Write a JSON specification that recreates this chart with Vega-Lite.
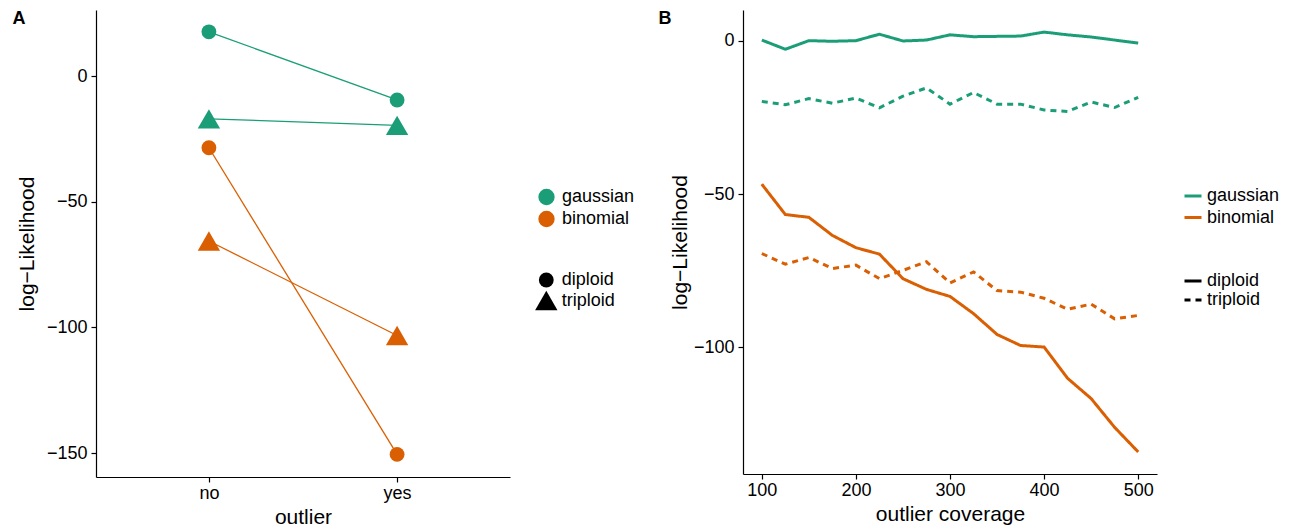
{
  "$schema": "https://vega.github.io/schema/vega-lite/v6.json",
  "padding": {"left": 12, "top": 10, "right": 5, "bottom": 2},
  "spacing": 23,
  "datasets": {
    "a": [
      {"outlier": "no", "model": "gaussian", "genotype": "diploid", "loglik": 17.6},
      {"outlier": "yes", "model": "gaussian", "genotype": "diploid", "loglik": -9.5},
      {"outlier": "no", "model": "gaussian", "genotype": "triploid", "loglik": -17.0},
      {"outlier": "yes", "model": "gaussian", "genotype": "triploid", "loglik": -19.6},
      {"outlier": "no", "model": "binomial", "genotype": "diploid", "loglik": -28.5},
      {"outlier": "yes", "model": "binomial", "genotype": "diploid", "loglik": -150.5},
      {"outlier": "no", "model": "binomial", "genotype": "triploid", "loglik": -65.6},
      {"outlier": "yes", "model": "binomial", "genotype": "triploid", "loglik": -103.2}
    ],
    "b": [
      {"coverage": 100, "model": "gaussian", "genotype": "diploid", "loglik": 0.2},
      {"coverage": 125, "model": "gaussian", "genotype": "diploid", "loglik": -2.8},
      {"coverage": 150, "model": "gaussian", "genotype": "diploid", "loglik": 0.0},
      {"coverage": 175, "model": "gaussian", "genotype": "diploid", "loglik": -0.2},
      {"coverage": 200, "model": "gaussian", "genotype": "diploid", "loglik": 0.0},
      {"coverage": 225, "model": "gaussian", "genotype": "diploid", "loglik": 2.1},
      {"coverage": 250, "model": "gaussian", "genotype": "diploid", "loglik": -0.1},
      {"coverage": 275, "model": "gaussian", "genotype": "diploid", "loglik": 0.2},
      {"coverage": 300, "model": "gaussian", "genotype": "diploid", "loglik": 1.9},
      {"coverage": 325, "model": "gaussian", "genotype": "diploid", "loglik": 1.3},
      {"coverage": 350, "model": "gaussian", "genotype": "diploid", "loglik": 1.4},
      {"coverage": 375, "model": "gaussian", "genotype": "diploid", "loglik": 1.5},
      {"coverage": 400, "model": "gaussian", "genotype": "diploid", "loglik": 2.8},
      {"coverage": 425, "model": "gaussian", "genotype": "diploid", "loglik": 1.9},
      {"coverage": 450, "model": "gaussian", "genotype": "diploid", "loglik": 1.2},
      {"coverage": 475, "model": "gaussian", "genotype": "diploid", "loglik": 0.2},
      {"coverage": 500, "model": "gaussian", "genotype": "diploid", "loglik": -0.8},
      {"coverage": 100, "model": "gaussian", "genotype": "triploid", "loglik": -19.8},
      {"coverage": 125, "model": "gaussian", "genotype": "triploid", "loglik": -20.9},
      {"coverage": 150, "model": "gaussian", "genotype": "triploid", "loglik": -18.9},
      {"coverage": 175, "model": "gaussian", "genotype": "triploid", "loglik": -20.4},
      {"coverage": 200, "model": "gaussian", "genotype": "triploid", "loglik": -18.7},
      {"coverage": 225, "model": "gaussian", "genotype": "triploid", "loglik": -21.9},
      {"coverage": 250, "model": "gaussian", "genotype": "triploid", "loglik": -18.1},
      {"coverage": 275, "model": "gaussian", "genotype": "triploid", "loglik": -15.4},
      {"coverage": 300, "model": "gaussian", "genotype": "triploid", "loglik": -20.7},
      {"coverage": 325, "model": "gaussian", "genotype": "triploid", "loglik": -16.9},
      {"coverage": 350, "model": "gaussian", "genotype": "triploid", "loglik": -20.7},
      {"coverage": 375, "model": "gaussian", "genotype": "triploid", "loglik": -20.7},
      {"coverage": 400, "model": "gaussian", "genotype": "triploid", "loglik": -22.6},
      {"coverage": 425, "model": "gaussian", "genotype": "triploid", "loglik": -23.1},
      {"coverage": 450, "model": "gaussian", "genotype": "triploid", "loglik": -20.0},
      {"coverage": 475, "model": "gaussian", "genotype": "triploid", "loglik": -21.8},
      {"coverage": 500, "model": "gaussian", "genotype": "triploid", "loglik": -18.5},
      {"coverage": 100, "model": "binomial", "genotype": "diploid", "loglik": -46.8},
      {"coverage": 125, "model": "binomial", "genotype": "diploid", "loglik": -56.7},
      {"coverage": 150, "model": "binomial", "genotype": "diploid", "loglik": -57.6},
      {"coverage": 175, "model": "binomial", "genotype": "diploid", "loglik": -63.5},
      {"coverage": 200, "model": "binomial", "genotype": "diploid", "loglik": -67.5},
      {"coverage": 225, "model": "binomial", "genotype": "diploid", "loglik": -69.6},
      {"coverage": 250, "model": "binomial", "genotype": "diploid", "loglik": -77.6},
      {"coverage": 275, "model": "binomial", "genotype": "diploid", "loglik": -81.1},
      {"coverage": 300, "model": "binomial", "genotype": "diploid", "loglik": -83.4},
      {"coverage": 325, "model": "binomial", "genotype": "diploid", "loglik": -89.0},
      {"coverage": 350, "model": "binomial", "genotype": "diploid", "loglik": -95.8},
      {"coverage": 375, "model": "binomial", "genotype": "diploid", "loglik": -99.4},
      {"coverage": 400, "model": "binomial", "genotype": "diploid", "loglik": -99.9},
      {"coverage": 425, "model": "binomial", "genotype": "diploid", "loglik": -110.1},
      {"coverage": 450, "model": "binomial", "genotype": "diploid", "loglik": -116.7},
      {"coverage": 475, "model": "binomial", "genotype": "diploid", "loglik": -126.1},
      {"coverage": 500, "model": "binomial", "genotype": "diploid", "loglik": -134.1},
      {"coverage": 100, "model": "binomial", "genotype": "triploid", "loglik": -69.4},
      {"coverage": 125, "model": "binomial", "genotype": "triploid", "loglik": -72.9},
      {"coverage": 150, "model": "binomial", "genotype": "triploid", "loglik": -70.7},
      {"coverage": 175, "model": "binomial", "genotype": "triploid", "loglik": -74.3},
      {"coverage": 200, "model": "binomial", "genotype": "triploid", "loglik": -73.2},
      {"coverage": 225, "model": "binomial", "genotype": "triploid", "loglik": -77.6},
      {"coverage": 250, "model": "binomial", "genotype": "triploid", "loglik": -74.9},
      {"coverage": 275, "model": "binomial", "genotype": "triploid", "loglik": -72.1},
      {"coverage": 300, "model": "binomial", "genotype": "triploid", "loglik": -79.0},
      {"coverage": 325, "model": "binomial", "genotype": "triploid", "loglik": -75.4},
      {"coverage": 350, "model": "binomial", "genotype": "triploid", "loglik": -81.5},
      {"coverage": 375, "model": "binomial", "genotype": "triploid", "loglik": -82.0},
      {"coverage": 400, "model": "binomial", "genotype": "triploid", "loglik": -84.0},
      {"coverage": 425, "model": "binomial", "genotype": "triploid", "loglik": -87.6},
      {"coverage": 450, "model": "binomial", "genotype": "triploid", "loglik": -85.9},
      {"coverage": 475, "model": "binomial", "genotype": "triploid", "loglik": -90.7},
      {"coverage": 500, "model": "binomial", "genotype": "triploid", "loglik": -89.6}
    ]
  },
  "hconcat": [
    {
      "width": 414,
      "height": 467,
      "title": {"text": "A", "anchor": "start", "frame": "bounds", "fontSize": 18, "fontWeight": "bold", "color": "black", "offset": -18, "dx": -4},
      "data": {"name": "a"},
      "layer": [
        {
          "mark": {"type": "line", "strokeWidth": 1.3},
          "encoding": {
            "x": {"field": "outlier", "type": "ordinal", "scale": {"type": "point", "padding": 0.6}, "axis": {"title": "outlier", "labelAngle": 0}},
            "y": {"field": "loglik", "type": "quantitative", "scale": {"domain": [-159.5, 26.3], "nice": false, "zero": false}, "axis": {"title": "log−Likelihood", "values": [0, -50, -100, -150], "titlePadding": 9}},
            "color": {"field": "model", "type": "nominal", "scale": {"domain": ["gaussian", "binomial"], "range": ["#1B9E77", "#D95F02"]}, "legend": {"orient": "none", "legendX": 441.5, "legendY": 178, "title": null, "symbolType": "circle", "symbolSize": 220, "labelOffset": 6.5, "rowPadding": 0}},
            "detail": {"field": "genotype"}
          }
        },
        {
          "mark": {"type": "point", "filled": true, "opacity": 1, "strokeWidth": 0},
          "encoding": {
            "x": {"field": "outlier", "type": "ordinal"},
            "y": {"field": "loglik", "type": "quantitative"},
            "color": {"field": "model", "type": "nominal", "legend": {"orient": "none", "legendX": 441.5, "legendY": 178, "title": null, "symbolType": "circle", "symbolSize": 220, "labelOffset": 6.5, "rowPadding": 0}},
            "shape": {"field": "genotype", "type": "nominal", "scale": {"domain": ["diploid", "triploid"], "range": ["circle", "triangle-up"]}, "legend": {"orient": "none", "legendX": 438.8, "legendY": 261, "title": null, "labelOffset": 4, "rowPadding": -1.5, "symbolFillColor": "black", "symbolStrokeColor": "black", "symbolStrokeWidth": 0}},
            "size": {"field": "genotype", "type": "nominal", "scale": {"domain": ["diploid", "triploid"], "range": [220, 500]}, "legend": {"orient": "none", "legendX": 438.8, "legendY": 261, "title": null, "labelOffset": 4, "rowPadding": -1.5, "symbolFillColor": "black", "symbolStrokeColor": "black", "symbolStrokeWidth": 0}}
          }
        }
      ]
    },
    {
      "width": 414,
      "height": 464,
      "title": {"text": "B", "anchor": "start", "frame": "bounds", "fontSize": 18, "fontWeight": "bold", "color": "black", "offset": -18, "dx": -11},
      "data": {"name": "b"},
      "mark": {"type": "line", "strokeWidth": 3, "strokeCap": "butt"},
      "encoding": {
        "x": {"field": "coverage", "type": "quantitative", "scale": {"domain": [80, 520], "nice": false, "zero": false}, "axis": {"title": "outlier coverage", "values": [100, 200, 300, 400, 500]}},
        "y": {"field": "loglik", "type": "quantitative", "scale": {"domain": [-141.3, 10.0], "nice": false, "zero": false}, "axis": {"title": "log−Likelihood", "values": [0, -50, -100], "titlePadding": 3}},
        "color": {"field": "model", "type": "nominal", "scale": {"domain": ["gaussian", "binomial"], "range": ["#1B9E77", "#D95F02"]}, "legend": {"orient": "none", "legendX": 440, "legendY": 176, "title": null, "symbolType": "stroke", "symbolSize": 289, "symbolStrokeWidth": 3, "labelOffset": 4, "rowPadding": 2.5}},
        "strokeDash": {"field": "genotype", "type": "nominal", "scale": {"domain": ["diploid", "triploid"], "range": [[1, 0], [6, 5]]}, "legend": {"orient": "none", "legendX": 440, "legendY": 261, "title": null, "symbolType": "stroke", "symbolSize": 289, "symbolStrokeWidth": 3, "symbolStrokeColor": "black", "labelOffset": 4, "rowPadding": 0}}
      }
    }
  ],
  "resolve": {
    "scale": {"x": "independent", "y": "independent", "color": "independent", "shape": "independent", "size": "independent", "strokeDash": "independent"},
    "axis": {"x": "independent", "y": "independent"},
    "legend": {"color": "independent", "shape": "independent", "size": "independent", "strokeDash": "independent"}
  },
  "config": {
    "font": "Liberation Sans",
    "view": {"stroke": null},
    "axis": {"grid": false, "domainColor": "black", "tickColor": "black", "labelColor": "black", "titleColor": "black", "labelFontSize": 18, "titleFontSize": 21, "titleFontWeight": "normal", "tickSize": 5, "domainWidth": 1.2, "tickWidth": 1.2},
    "axisX": {"labelPadding": 2, "titlePadding": 4},
    "axisY": {"labelPadding": 4, "titlePadding": 6},
    "legend": {"labelFontSize": 18, "labelColor": "black", "padding": 0}
  }
}
